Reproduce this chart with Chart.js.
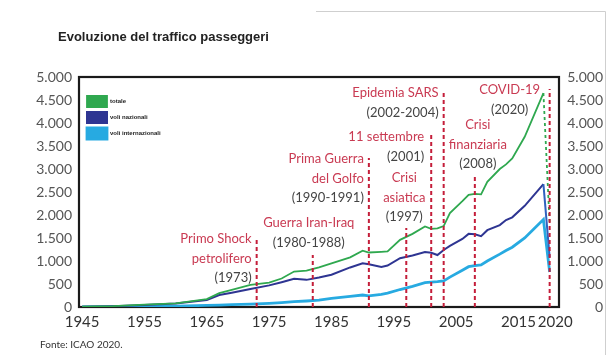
<!DOCTYPE html>
<html lang="it">
<head>
<meta charset="utf-8">
<title>Evoluzione del traffico passeggeri</title>
<script src="https://cdn.jsdelivr.net/npm/chart.js@4.4.1/dist/chart.umd.min.js"></script>
<style>
  html, body { margin: 0; padding: 0; background: #fff; }
  #wrap { width: 613px; height: 355px; }
</style>
</head>
<body>
<div id="wrap"><canvas id="trafficChart" width="613" height="355"></canvas></div>
<script>
// Passeggeri trasportati nel mondo (milioni)
const years = [1945, 1950, 1955, 1960, 1965, 1967, 1969, 1972, 1975, 1977,
               1979, 1981, 1983, 1985, 1988, 1990, 1991, 1993, 1994, 1996,
               1998, 2000, 2001, 2002, 2003, 2004, 2006, 2007, 2008, 2009,
               2010, 2012, 2013, 2014, 2016, 2019, 2020];
const totale = [5, 20, 50, 80, 170, 300, 370, 480, 530, 620,
                770, 790, 860, 950, 1080, 1225, 1185, 1200, 1210, 1460,
                1590, 1750, 1700, 1710, 1760, 2040, 2300, 2440, 2460, 2450,
                2720, 3000, 3100, 3230, 3700, 4650, 1800];
const nazionali = [5, 18, 45, 75, 150, 260, 310, 390, 470, 540,
                   615, 590, 640, 700, 860, 950, 930, 870, 900, 1060,
                   1120, 1195, 1180, 1130, 1240, 1330, 1480, 1590, 1580, 1540,
                   1670, 1780, 1890, 1950, 2200, 2670, 1080];
const internazionali = [0, 5, 10, 20, 35, 42, 50, 62, 80, 95,
                        115, 130, 150, 188, 230, 261, 240, 275, 300, 380,
                        450, 529, 540, 550, 565, 650, 800, 877, 900, 913,
                        1000, 1150, 1230, 1300, 1500, 1900, 760];

const xTicks = [1945, 1955, 1965, 1975, 1985, 1995, 2005, 2015, 2020];

// Eventi che hanno segnato il traffico aereo
const eventYears = [1973, 1982, 1991, 1997, 2001, 2003, 2008, 2020];
const eventTitles = [
  ['Primo Shock', 'petrolifero'],
  ['Guerra Iran-Iraq'],
  ['Prima Guerra', 'del Golfo'],
  ['Crisi', 'asiatica'],
  ['11 settembre'],
  ['Epidemia SARS'],
  ['Crisi', 'finanziaria'],
  ['COVID-19']
];
const eventPeriods = ['(1973)', '(1980-1988)', '(1990-1991)', '(1997)',
                      '(2001)', '(2002-2004)', '(2008)', '(2020)'];

// where each dashed marker stops and how its caption sits next to it
const calloutLayout = [
  { top: 1520, align: 'right',  dx: -5, dy: 2 },
  { top: 1130, align: 'center', dx: -4, dy: -32 },
  { top: 3240, align: 'right',  dx: -5, dy: 1 },
  { top: 1720, align: 'center', dx: -2, dy: -50 },
  { top: 3800, align: 'right',  dx: -7, dy: 5 },
  { top: 4720, align: 'right',  dx: -5, dy: 3 },
  { top: 2870, align: 'center', dx: 3,  dy: -50 },
  { top: 4740, align: 'center', dx: -40, dy: 1 }
];

const colors = {
  totale: '#2fa84f',
  nazionali: '#2e3592',
  nazionaliDrop: '#2f62bf',
  internazionali: '#27aae1',
  event: '#c41e3a',
  eventText: '#c93a52',
  periodText: '#444444'
};

const lastIdx = years.length - 1;
const toPoints = values => years.map((yr, i) => ({ x: yr, y: values[i] }));

const formatThousands = v =>
  v >= 1000 ? Math.floor(v / 1000) + '.' + String(v % 1000).padStart(3, '0') : String(v);

// the last year sits only five years after 2015: pad it so the two labels don't touch
const formatYear = v => (v === xTicks[xTicks.length - 1] ? '\u2003' + v : String(v));

const seriesDatasets = [
  {
    label: 'totale',
    data: toPoints(totale),
    borderColor: colors.totale,
    backgroundColor: colors.totale,
    borderWidth: 1.8,
    order: 1,
    segment: {
      borderDash: ctx => (ctx.p1DataIndex === lastIdx ? [3, 3] : undefined)
    }
  },
  {
    label: 'voli nazionali',
    data: toPoints(nazionali),
    borderColor: colors.nazionali,
    backgroundColor: colors.nazionali,
    borderWidth: 2,
    order: 2,
    segment: {
      borderColor: ctx => (ctx.p1DataIndex === lastIdx ? colors.nazionaliDrop : undefined)
    }
  },
  {
    label: 'voli internazionali',
    data: toPoints(internazionali),
    borderColor: colors.internazionali,
    backgroundColor: colors.internazionali,
    borderWidth: 2.8,
    order: 3
  }
];

const eventDatasets = eventYears.map((yr, i) => ({
  label: eventTitles[i].join(' '),
  data: [{ x: yr, y: 0 }, { x: yr, y: calloutLayout[i].top }],
  borderColor: colors.event,
  borderWidth: 2,
  borderDash: [4, 3],
  order: 0
}));

// a vertical legend in 'chartArea' starts at the canvas top, push it into the plot
const legendInPlot = {
  id: 'legendInPlot',
  afterLayout(chart) {
    const legend = chart.legend;
    if (!legend) return;
    legend.top = chart.chartArea.top + 14;
    legend.left = chart.chartArea.left + 3;
  }
};

// frame around the plot area
const plotFrame = {
  id: 'plotFrame',
  beforeDatasetsDraw(chart) {
    const { ctx, chartArea: a } = chart;
    ctx.save();
    ctx.strokeStyle = '#1a1a1a';
    ctx.lineWidth = 2.2;
    ctx.strokeRect(a.left, a.top, a.right - a.left, a.bottom - a.top);
    ctx.restore();
  }
};

// captions of the dashed event markers
const eventCallouts = {
  id: 'eventCallouts',
  afterDatasetsDraw(chart) {
    const { ctx, scales } = chart;
    ctx.save();
    ctx.font = '13px Lato, "Open Sans", sans-serif';
    ctx.textBaseline = 'middle';
    eventYears.forEach((yr, i) => {
      const layout = calloutLayout[i];
      const x = scales.x.getPixelForValue(yr) + layout.dx;
      const top = scales.y.getPixelForValue(layout.top) + layout.dy;
      const rows = eventTitles[i].concat(eventPeriods[i]);
      ctx.textAlign = layout.align;
      rows.forEach((row, j) => {
        ctx.fillStyle = j < eventTitles[i].length ? colors.eventText : colors.periodText;
        ctx.fillText(row, x, top + j * 19.5);
      });
    });
    ctx.restore();
  }
};

// heading, source note and the thin page border
const pageText = {
  id: 'pageText',
  afterDraw(chart) {
    const { ctx } = chart;
    ctx.save();
    ctx.strokeStyle = '#cfcfcf';
    ctx.lineWidth = 1;
    ctx.beginPath();
    ctx.moveTo(316, 11.5);
    ctx.lineTo(605.5, 11.5);
    ctx.lineTo(605.5, 355);
    ctx.stroke();

    ctx.fillStyle = '#222';
    ctx.textBaseline = 'middle';
    ctx.textAlign = 'left';
    ctx.font = 'bold 13px "Liberation Sans", Arial, sans-serif';
    ctx.fillText('Evoluzione del traffico passeggeri', 58, 37);

    ctx.fillStyle = '#333';
    ctx.font = '10px Lato, "Open Sans", sans-serif';
    ctx.fillText('Fonte: ICAO 2020.', 40, 345);
    ctx.restore();
  }
};

const valueAxis = (position, width, extra) => ({
  type: 'linear',
  position,
  min: 0,
  max: 5000,
  afterFit(scale) { scale.width = width; },
  grid: { display: false, drawTicks: false },
  border: { display: false },
  ticks: Object.assign({
    stepSize: 500,
    color: '#555',
    font: { family: 'Lato', size: 14 },
    callback: v => formatThousands(v)
  }, extra)
});

new Chart(document.getElementById('trafficChart'), {
  type: 'line',
  data: { datasets: seriesDatasets.concat(eventDatasets) },
  options: {
    responsive: false,
    animation: false,
    layout: { padding: { top: 77, left: 0, right: 10, bottom: 0 } },
    elements: {
      point: { radius: 0, hoverRadius: 0 },
      line: { tension: 0, fill: false }
    },
    plugins: {
      tooltip: { enabled: false },
      legend: {
        position: 'chartArea',
        align: 'start',
        labels: {
          boxWidth: 20,
          boxHeight: 11,
          padding: 5,
          color: '#222',
          font: { family: '"Liberation Sans", Arial, sans-serif', size: 6, weight: 'bold' },
          filter: item => item.datasetIndex < 3
        }
      }
    },
    scales: {
      x: {
        type: 'linear',
        min: 1944.5,
        max: 2021.5,
        afterFit(scale) { scale.height = 48; },
        afterBuildTicks(axis) { axis.ticks = xTicks.map(v => ({ value: v })); },
        grid: { display: false, drawTicks: false },
        border: { display: false },
        ticks: {
          autoSkip: false,
          maxRotation: 0,
          padding: 6,
          color: '#333',
          font: { family: 'Lato', size: 15 },
          callback: v => formatYear(v)
        }
      },
      y: valueAxis('left', 79, { padding: 7 }),
      y2: valueAxis('right', 44, { padding: 8, crossAlign: 'far' })
    }
  },
  plugins: [legendInPlot, plotFrame, eventCallouts, pageText]
});
</script>
</body>
</html>
